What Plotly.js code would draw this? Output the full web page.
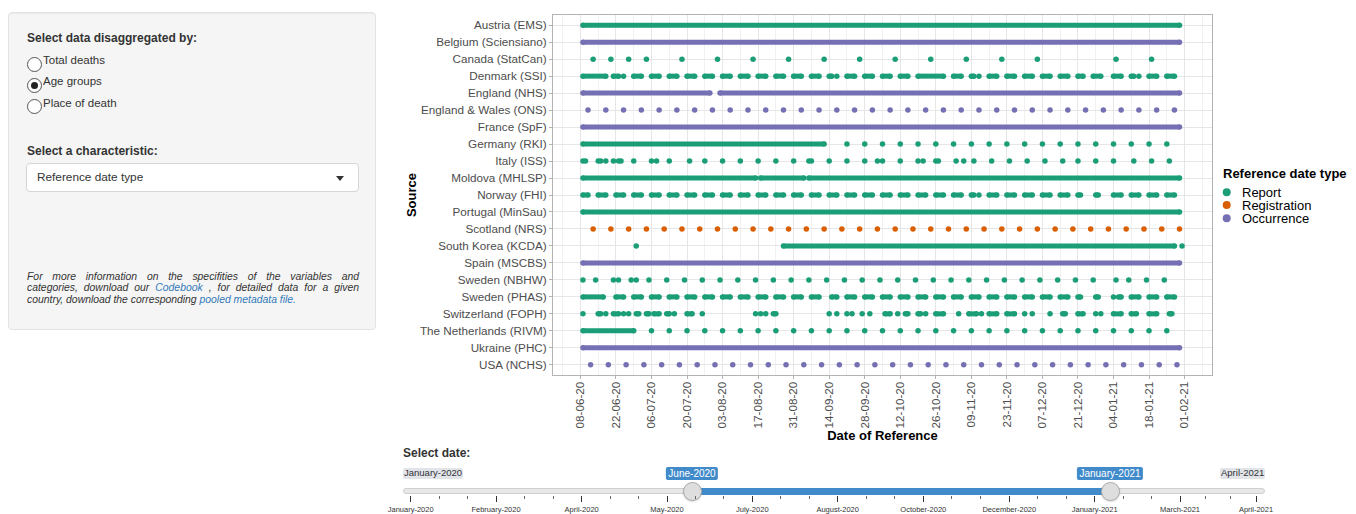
<!DOCTYPE html>
<html>
<head>
<meta charset="utf-8">
<script src="https://cdn.plot.ly/plotly-3.0.1.min.js"></script>
<style>
  html, body { margin:0; padding:0; width:1356px; height:514px; overflow:hidden; background:#fff;
    font-family:"Liberation Sans", Arial, Helvetica, sans-serif; color:#333; }
  .abs { position:absolute; white-space:nowrap; }
  .well { position:absolute; left:8px; top:12px; width:366px; height:316px; background:#f5f5f5;
    border:1px solid #e3e3e3; border-radius:4px; box-shadow: inset 0 1px 1px rgba(0,0,0,.05); }
  .hdr { font-weight:bold; font-size:12px; line-height:15px; color:#333; }
  .radio { position:absolute; width:15px; height:15px; box-sizing:border-box; border:1px solid #555;
    border-radius:50%; background:#fff; }
  .radio.on::after { content:""; position:absolute; left:3px; top:3px; width:7px; height:7px; border-radius:50%; background:#222; }
  .rlab { font-size:11.5px; line-height:14px; color:#333; }
  .sel { position:absolute; left:26px; top:163px; width:333px; height:29px; box-sizing:border-box;
    background:#fff; border:1px solid #d6d6d6; border-radius:4px; }
  .caret { position:absolute; left:336px; top:176px; width:0; height:0; border-left:4px solid transparent;
    border-right:4px solid transparent; border-top:5px solid #333; }
  .info { position:absolute; left:27px; width:332px; font-style:italic; font-size:10.4px; line-height:11.3px; color:#333; }
  .info div { text-align:justify; text-align-last:justify; white-space:nowrap; }
  .info div.last { text-align:left; text-align-last:left; }
  .info a { color:#337ab7; text-decoration:none; }
  #plot { position:absolute; left:390px; top:0; width:966px; height:445px; }
  .track { position:absolute; left:403px; top:488px; width:862px; height:6px; box-sizing:border-box;
    background:#e8e8e8; border:1px solid #cfcfcf; border-radius:3px; }
  .bar { position:absolute; top:487.5px; height:7px; background:#428bca; }
  .handle { position:absolute; width:19px; height:19px; box-sizing:border-box; border-radius:50%;
    background:#dedede; border:1px solid #ababab; box-shadow:0 1px 2px rgba(0,0,0,.15); }
  .lab { position:absolute; font-size:9.5px; line-height:10px; padding:0.5px 1px; border-radius:2px; }
  .lab.grey { background:#e1e4e9; color:#333; }
  .lab.blue { background:#428bca; color:#fff; font-size:10px; line-height:11.3px; padding:1px 2.5px; }
  .tk { position:absolute; width:1px; background:#333; }
  .tlab { position:absolute; font-size:7.5px; line-height:8px; color:#333; transform:translateX(-50%); }
</style>
</head>
<body>
<div class="well"></div>
<div class="abs hdr" style="left:27px;top:30.5px;">Select data disaggregated by:</div>
<div class="radio" style="left:26.5px;top:56.5px;"></div>
<div class="abs rlab" style="left:43px;top:53px;">Total deaths</div>
<div class="radio on" style="left:26.5px;top:77.5px;"></div>
<div class="abs rlab" style="left:43px;top:74px;">Age groups</div>
<div class="radio" style="left:26.5px;top:98.5px;"></div>
<div class="abs rlab" style="left:43px;top:95.5px;">Place of death</div>
<div class="abs hdr" style="left:27px;top:143.5px;">Select a characteristic:</div>
<div class="sel"></div>
<div class="abs" style="left:37px;top:170px;font-size:11.8px;line-height:15px;color:#333;">Reference date type</div>
<div class="caret"></div>
<div class="info" style="top:271px;">
  <div>For more information on the specifities of the variables and</div>
  <div>categories, download our <a>Codebook</a> , for detailed data for a given</div>
  <div class="last">country, download the corresponding <a>pooled metadata file.</a></div>
</div>

<div id="plot"></div>

<div class="abs hdr" style="left:403px;top:445.5px;">Select date:</div>
<div class="track"></div>
<div class="bar" style="left:692px;width:418px;"></div>
<div class="lab grey" style="left:403px;top:467.5px;">January-2020</div>
<div class="lab grey" style="left:1220px;top:467.5px;">April-2021</div>
<div class="lab blue" style="left:692px;top:466.5px;transform:translateX(-50%);">June-2020</div>
<div class="lab blue" style="left:1110px;top:466.5px;transform:translateX(-50%);">January-2021</div>
<div class="handle" style="left:682.5px;top:481.5px;"></div>
<div class="handle" style="left:1100.5px;top:481.5px;"></div>
<div id="sliderGrid"></div>

<script>
// ---------------- data ----------------
const sources = [
  "Austria (EMS)", "Belgium (Sciensiano)", "Canada (StatCan)", "Denmark (SSI)", "England (NHS)",
  "England & Wales (ONS)", "France (SpF)", "Germany (RKI)", "Italy (ISS)", "Moldova (MHLSP)",
  "Norway (FHI)", "Portugal (MinSau)", "Scotland (NRS)", "South Korea (KCDA)", "Spain (MSCBS)",
  "Sweden (NBHW)", "Sweden (PHAS)", "Switzerland (FOPH)", "The Netherlands (RIVM)", "Ukraine (PHC)", "USA (NCHS)"
];
const referenceTypes = [
  "Report", "Occurrence", "Report", "Report", "Occurrence",
  "Occurrence", "Occurrence", "Report", "Report", "Report",
  "Report", "Report", "Registration", "Report", "Occurrence",
  "Report", "Report", "Report", "Report", "Occurrence", "Occurrence"
];
const legendTypes = ["Report", "Registration", "Occurrence"];

// Each entry: a single reporting date, or [first, last] of a run of consecutive daily dates.
const austriaEMS = [["2020-06-09","2021-01-30"]];
const belgiumSciensiano = [["2020-06-09","2021-01-30"]];
const canadaStatCan = ["2020-06-13","2020-06-20","2020-06-27","2020-07-04","2020-07-18","2020-08-01","2020-08-15",
  "2020-08-29","2020-09-12","2020-09-26","2020-10-10","2020-10-24","2020-11-07","2020-11-21","2020-12-05",
  "2021-01-05","2021-01-19"];
const denmarkSSI = [["2020-06-09","2020-06-18"],["2020-06-21","2020-06-23"],"2020-06-25",["2020-06-29","2020-07-02"],
  ["2020-07-06","2020-07-09"],["2020-07-13","2020-07-16"],["2020-07-20","2020-07-23"],["2020-07-27","2020-07-30"],
  ["2020-08-03","2020-08-06"],["2020-08-10","2020-08-13"],["2020-08-17","2020-08-20"],["2020-08-24","2020-08-27"],
  ["2020-08-31","2020-09-03"],["2020-09-07","2020-09-10"],["2020-09-14","2020-09-15"],"2020-09-17",
  ["2020-09-21","2020-09-24"],["2020-09-28","2020-10-01"],["2020-10-05","2020-10-08"],["2020-10-12","2020-10-15"],
  ["2020-10-19","2020-10-29"],["2020-11-02","2020-11-05"],["2020-11-09","2020-11-10"],"2020-11-12",
  ["2020-11-16","2020-11-19"],["2020-11-23","2020-11-26"],["2020-11-30","2020-12-03"],["2020-12-07","2020-12-10"],
  ["2020-12-14","2020-12-17"],["2020-12-21","2020-12-23"],["2020-12-27","2020-12-30"],["2021-01-04","2021-01-07"],
  ["2021-01-11","2021-01-12"],"2021-01-14",["2021-01-18","2021-01-21"],["2021-01-25","2021-01-28"]];
const englandNHS = [["2020-06-09","2020-07-29"],["2020-08-02","2021-01-30"]];
const englandWalesONS = ["2020-06-11","2020-06-18","2020-06-25","2020-07-02","2020-07-09","2020-07-16","2020-07-23",
  "2020-07-30","2020-08-06","2020-08-13","2020-08-20","2020-08-27","2020-09-03","2020-09-10","2020-09-17",
  "2020-09-24","2020-10-01","2020-10-08","2020-10-15","2020-10-22","2020-10-29","2020-11-05","2020-11-12",
  "2020-11-19","2020-11-26","2020-12-03","2020-12-10","2020-12-17","2020-12-24","2020-12-31","2021-01-07",
  "2021-01-14","2021-01-21","2021-01-28"];
const franceSpF = [["2020-06-09","2021-01-30"]];
const germanyRKI = [["2020-06-09","2020-09-12"],"2020-09-21","2020-09-28","2020-10-05","2020-10-12","2020-10-19",
  "2020-10-26","2020-11-02","2020-11-09","2020-11-16","2020-11-23","2020-11-30","2020-12-07","2020-12-14",
  "2020-12-21","2020-12-28","2021-01-04","2021-01-11","2021-01-18","2021-01-25"];
const italyISS = ["2020-06-09","2020-06-10","2020-06-15","2020-06-16","2020-06-18","2020-06-21","2020-06-23",
  "2020-06-24","2020-06-29","2020-07-06","2020-07-08","2020-07-13","2020-07-21","2020-07-27","2020-08-03",
  "2020-08-10","2020-08-17","2020-08-24","2020-08-31","2020-09-06","2020-09-07","2020-09-14","2020-09-21",
  "2020-09-28","2020-10-03","2020-10-05","2020-10-12","2020-10-19","2020-10-21","2020-10-26","2020-10-27",
  "2020-11-03","2020-11-06","2020-11-10","2020-11-17","2020-11-24","2020-12-01","2020-12-08","2020-12-15",
  "2020-12-21","2020-12-28","2021-01-04","2021-01-12","2021-01-19","2021-01-26"];
const moldovaMHLSP = [["2020-06-09","2020-08-16"],["2020-08-18","2020-09-04"],["2020-09-06","2021-01-30"]];
const norwayFHI = [["2020-06-09","2020-06-11"],["2020-06-15","2020-06-18"],["2020-06-22","2020-06-25"],
  ["2020-06-29","2020-07-02"],["2020-07-06","2020-07-09"],["2020-07-13","2020-07-16"],["2020-07-20","2020-07-23"],
  ["2020-07-27","2020-07-30"],["2020-08-03","2020-08-06"],["2020-08-10","2020-08-13"],["2020-08-17","2020-08-20"],
  ["2020-08-24","2020-08-27"],["2020-08-31","2020-09-03"],["2020-09-07","2020-09-10"],["2020-09-14","2020-09-17"],
  ["2020-09-21","2020-09-24"],["2020-09-28","2020-10-01"],["2020-10-05","2020-10-08"],["2020-10-12","2020-10-15"],
  ["2020-10-19","2020-10-22"],["2020-10-26","2020-10-29"],["2020-11-02","2020-11-05"],["2020-11-09","2020-11-10"],
  "2020-11-12",["2020-11-16","2020-11-19"],["2020-11-23","2020-11-26"],["2020-11-30","2020-12-03"],
  ["2020-12-07","2020-12-10"],["2020-12-14","2020-12-17"],["2020-12-21","2020-12-22"],["2020-12-28","2020-12-29"],
  ["2021-01-04","2021-01-07"],["2021-01-11","2021-01-14"],["2021-01-18","2021-01-21"],["2021-01-25","2021-01-28"]];
const portugalMinSau = [["2020-06-09","2021-01-30"]];
const scotlandNRS = ["2020-06-13","2020-06-20","2020-06-27","2020-07-04","2020-07-11","2020-07-18","2020-07-25",
  "2020-08-01","2020-08-08","2020-08-15","2020-08-22","2020-08-29","2020-09-05","2020-09-12","2020-09-19",
  "2020-09-26","2020-10-03","2020-10-10","2020-10-17","2020-10-24","2020-10-31","2020-11-07","2020-11-14",
  "2020-11-21","2020-11-28","2020-12-05","2020-12-12","2020-12-19","2020-12-26","2021-01-02","2021-01-09",
  "2021-01-16","2021-01-23","2021-01-30"];
const southKoreaKCDA = ["2020-06-30",["2020-08-27","2021-01-28"],"2021-01-31"];
const spainMSCBS = [["2020-06-09","2021-01-30"]];
const swedenNBHW = ["2020-06-09","2020-06-14","2020-06-21","2020-06-23","2020-06-28","2020-06-30","2020-07-05",
  "2020-07-12","2020-07-19","2020-07-26","2020-08-02","2020-08-09","2020-08-16","2020-08-23","2020-08-30",
  "2020-09-06","2020-09-13","2020-09-20","2020-09-27","2020-10-04","2020-10-11","2020-10-18","2020-10-25",
  "2020-11-01","2020-11-08","2020-11-15","2020-11-22","2020-11-29","2020-12-06","2020-12-13","2020-12-20",
  "2020-12-27","2021-01-05","2021-01-10","2021-01-17","2021-01-24"];
const swedenPHAS = [["2020-06-09","2020-06-17"],["2020-06-22","2020-06-25"],["2020-06-29","2020-07-02"],
  ["2020-07-06","2020-07-09"],["2020-07-13","2020-07-16"],["2020-07-20","2020-07-23"],["2020-07-27","2020-07-30"],
  ["2020-08-03","2020-08-06"],["2020-08-10","2020-08-13"],["2020-08-17","2020-08-20"],["2020-08-24","2020-08-27"],
  ["2020-08-31","2020-09-03"],["2020-09-07","2020-09-10"],["2020-09-15","2020-09-17"],["2020-09-21","2020-09-24"],
  ["2020-09-28","2020-10-01"],["2020-10-05","2020-10-08"],["2020-10-12","2020-10-15"],["2020-10-19","2020-10-22"],
  ["2020-10-26","2020-10-29"],["2020-11-02","2020-11-05"],["2020-11-09","2020-11-12"],["2020-11-16","2020-11-19"],
  ["2020-11-23","2020-11-26"],["2020-11-30","2020-12-03"],["2020-12-07","2020-12-10"],["2020-12-14","2020-12-17"],
  ["2020-12-21","2020-12-22"],["2020-12-28","2020-12-29"],"2021-01-04",["2021-01-06","2021-01-07"],
  ["2021-01-11","2021-01-14"],["2021-01-18","2021-01-21"],["2021-01-25","2021-01-28"]];
const switzerlandFOPH = ["2020-06-09",["2020-06-15","2020-06-16"],"2020-06-18",["2020-06-21","2020-06-23"],
  "2020-06-25","2020-06-27",["2020-06-30","2020-07-01"],["2020-07-04","2020-07-05"],["2020-07-07","2020-07-09"],
  ["2020-07-12","2020-07-13"],"2020-07-15",["2020-07-20","2020-07-22"],"2020-07-26","2020-08-16","2020-08-18",
  "2020-08-20",["2020-08-23","2020-08-24"],"2020-09-14","2020-09-17","2020-09-21","2020-09-23","2020-09-27",
  "2020-09-30",["2020-10-06","2020-10-08"],"2020-10-11",["2020-10-14","2020-10-15"],["2020-10-19","2020-10-20"],
  "2020-10-22",["2020-10-26","2020-10-29"],"2020-11-04",["2020-11-08","2020-11-11"],"2020-11-13",
  ["2020-11-16","2020-11-19"],["2020-11-23","2020-11-26"],"2020-11-30","2020-12-03","2020-12-10",
  ["2020-12-15","2020-12-16"],["2020-12-21","2020-12-23"],"2020-12-28","2020-12-30",["2021-01-04","2021-01-07"],
  ["2021-01-11","2021-01-13"],["2021-01-18","2021-01-21"],["2021-01-26","2021-01-27"]];
const netherlandsRIVM = [["2020-06-09","2020-06-29"],"2020-07-06","2020-07-13","2020-07-20","2020-07-27",
  "2020-08-03","2020-08-10","2020-08-17","2020-08-24","2020-08-31","2020-09-07","2020-09-14","2020-09-21",
  "2020-09-28","2020-10-05","2020-10-12","2020-10-19","2020-10-26","2020-11-02","2020-11-09","2020-11-16",
  "2020-11-23","2020-11-30","2020-12-07","2020-12-14","2020-12-21","2020-12-28","2021-01-04","2021-01-11",
  "2021-01-18","2021-01-25"];
const ukrainePHC = [["2020-06-09","2021-01-30"]];
const usaNCHS = ["2020-06-12","2020-06-19","2020-06-26","2020-07-03","2020-07-10","2020-07-17","2020-07-24",
  "2020-07-31","2020-08-07","2020-08-14","2020-08-21","2020-08-28","2020-09-04","2020-09-11","2020-09-18",
  "2020-09-25","2020-10-02","2020-10-09","2020-10-16","2020-10-23","2020-10-30","2020-11-06","2020-11-13",
  "2020-11-20","2020-11-27","2020-12-04","2020-12-11","2020-12-18","2020-12-25","2021-01-01","2021-01-08",
  "2021-01-15","2021-01-22","2021-01-29"];

const sourceDates = [austriaEMS, belgiumSciensiano, canadaStatCan, denmarkSSI, englandNHS, englandWalesONS,
  franceSpF, germanyRKI, italyISS, moldovaMHLSP, norwayFHI, portugalMinSau, scotlandNRS, southKoreaKCDA,
  spainMSCBS, swedenNBHW, swedenPHAS, switzerlandFOPH, netherlandsRIVM, ukrainePHC, usaNCHS];

// slider (input widget) labels
const sliderLabels = ["January-2020","February-2020","April-2020","May-2020","July-2020","August-2020",
  "October-2020","December-2020","January-2021","March-2021","April-2021"];

// ---------------- styles ----------------
const typeColors = { Report: "#1b9e77", Registration: "#d95f02", Occurrence: "#7570b3" };
const FONT = "Liberation Sans, Arial, Helvetica, sans-serif";

// ---------------- traces ----------------
const traces = sources.map((src, i) => {
  const xs = [], ys = [];
  sourceDates[i].forEach(e => {
    if (Array.isArray(e)) { xs.push(e[0], e[1], null); ys.push(src, src, null); }
    else { xs.push(e, null); ys.push(src, null); }
  });
  const c = typeColors[referenceTypes[i]];
  return {
    type: "scatter", mode: "lines+markers", name: src, x: xs, y: ys,
    line: { color: c, width: 5 }, marker: { color: c, size: 5.5 },
    connectgaps: false, showlegend: false, hoverinfo: "skip", cliponaxis: false
  };
});

// ---------------- legend (drawn with shapes + annotations) ----------------
const PL = 553, PR = 1212, PT = 15, PB = 375;
const px2x = p => (p - PL) / (PR - PL);
const px2y = p => (PB - p) / (PB - PT);
const legendRowsY = [192.3, 205.1, 218.3];
const shapes = legendTypes.map((t, k) => ({
  type: "circle", xref: "paper", yref: "paper", xsizemode: "pixel", ysizemode: "pixel",
  xanchor: px2x(1226.7), yanchor: px2y(legendRowsY[k]), x0: -4, x1: 4, y0: -4, y1: 4,
  fillcolor: typeColors[t], line: { width: 0 }, layer: "above"
}));
const annotations = [{
  xref: "paper", yref: "paper", x: px2x(1220.5), y: px2y(173.5), xanchor: "left", yanchor: "middle",
  text: "Reference date type", showarrow: false, font: { family: FONT, size: 13, color: "#000", weight: "bold" }
}].concat(legendTypes.map((t, k) => ({
  xref: "paper", yref: "paper", x: px2x(1239.5), y: px2y(legendRowsY[k]), xanchor: "left", yanchor: "middle",
  text: t, showarrow: false, font: { family: FONT, size: 13, color: "#000" }
})));

const DAY = 86400000;
const layout = {
  width: 966, height: 445,
  margin: { l: PL - 390, r: 1356 - PR, t: PT, b: 445 - PB },
  paper_bgcolor: "#ffffff", plot_bgcolor: "#ffffff",
  font: { family: FONT, size: 11.7, color: "#4d4d4d" },
  xaxis: {
    type: "date", range: ["2020-05-28 04:48", "2021-02-11 19:12"],
    tick0: "2020-06-08", dtick: 14 * DAY, tickformat: "%d-%m-%y", tickangle: -90,
    ticks: "outside", ticklen: 3, tickwidth: 1, tickcolor: "#b3b3b3", ticklabelstandoff: -2,
    tickfont: { family: FONT, size: 11.7, color: "#4d4d4d" },
    showgrid: true, gridcolor: "#e6e6e6", gridwidth: 1,
    minor: { tick0: "2020-06-01", dtick: 14 * DAY, showgrid: true, gridcolor: "#f1f1f1", gridwidth: 1, ticks: "" },
    showline: true, linecolor: "#b3b3b3", linewidth: 1, mirror: true, zeroline: false,
    title: { text: "Date of Reference", standoff: 0, font: { family: FONT, size: 13, color: "#000", weight: "bold" } },
    fixedrange: true
  },
  yaxis: {
    type: "category", categoryorder: "array", categoryarray: sources, range: [sources.length - 0.4, -0.6],
    ticks: "outside", ticklen: 3, tickwidth: 1, tickcolor: "#b3b3b3",
    tickfont: { family: FONT, size: 11.7, color: "#4d4d4d" },
    showgrid: true, gridcolor: "#e6e6e6", gridwidth: 1,
    showline: true, linecolor: "#b3b3b3", linewidth: 1, mirror: true, zeroline: false,
    title: { text: "Source", standoff: 0, font: { family: FONT, size: 13, color: "#000", weight: "bold" } },
    fixedrange: true
  },
  shapes: shapes,
  annotations: annotations
};

Plotly.newPlot("plot", traces, layout, { staticPlot: true, displayModeBar: false });

// ---------------- slider grid (widget decoration) ----------------
const majorPx = [410.7, 496, 581.7, 667, 752.3, 837.7, 923.3, 1009.3, 1094.7, 1180, 1256];
const grid = document.getElementById("sliderGrid");
majorPx.forEach((p, i) => {
  const t = document.createElement("div");
  t.className = "tk"; t.style.left = (p - 0.5) + "px"; t.style.top = "496px"; t.style.height = "6px";
  grid.appendChild(t);
  const l = document.createElement("div");
  l.className = "tlab"; l.style.left = p + "px"; l.style.top = "506px"; l.textContent = sliderLabels[i];
  grid.appendChild(l);
  if (i < majorPx.length - 1) {
    const step = (majorPx[i + 1] - p) / 3;
    [1, 2].forEach(k => {
      const m = document.createElement("div");
      m.className = "tk"; m.style.left = (p + k * step - 0.5) + "px"; m.style.top = "496px"; m.style.height = "3px";
      m.style.background = "#666";
      grid.appendChild(m);
    });
  }
});
</script>
</body>
</html>
